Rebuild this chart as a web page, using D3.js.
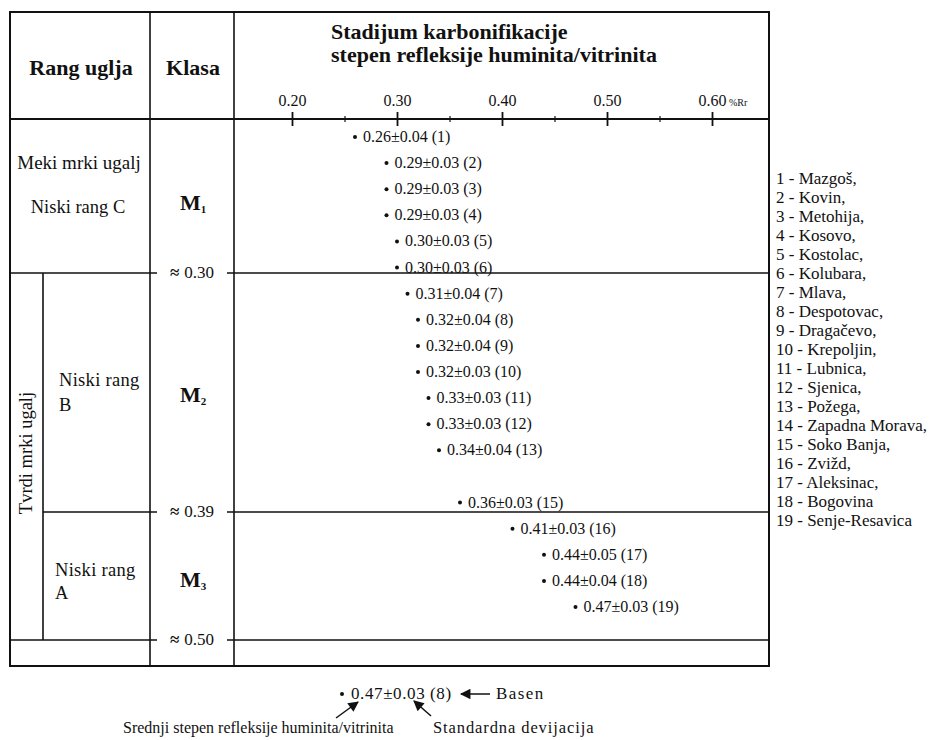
<!DOCTYPE html>
<html><head><meta charset="utf-8">
<script src="https://cdn.jsdelivr.net/npm/d3@7"></script>
<style>
html,body{margin:0;padding:0;background:#fff;}
</style></head>
<body>
<svg id="chart" width="941" height="740"></svg>
<script>
// ---------- data ----------
const basinNames = ["Mazgoš","Kovin","Metohija","Kosovo","Kostolac","Kolubara","Mlava","Despotovac","Dragačevo","Krepoljin","Lubnica","Sjenica","Požega","Zapadna Morava","Soko Banja","Zvižd","Aleksinac","Bogovina","Senje-Resavica"];
const basinIds  = [1,2,3,4,5,6,7,8,9,10,11,12,13,15,16,17,18,19];
const meanRr    = [0.26,0.29,0.29,0.29,0.30,0.30,0.31,0.32,0.32,0.32,0.33,0.33,0.34,0.36,0.41,0.44,0.44,0.47];
const sdRr      = [0.04,0.03,0.03,0.03,0.03,0.03,0.04,0.04,0.04,0.03,0.03,0.03,0.04,0.03,0.03,0.05,0.04,0.03];
const majorTicks = [0.20,0.30,0.40,0.50,0.60];
const minorTicks = [0.25,0.35,0.45,0.55];
const boundaryLabels = ["0.30","0.39","0.50"];
const classNames = ["M","M","M"];
const classSubs = ["1","2","3"];

const FONT = "'Liberation Serif', Tinos, 'Times New Roman', 'DejaVu Serif', serif";

// ---------- layout ----------
const svg = d3.select("#chart").attr("font-family", FONT);
const L = 10, R = 769, T = 12, B = 666;
const col1 = 150, col2 = 234, headY = 119;
const bandY = [headY, 273, 512, 640];
const x = d3.scaleLinear().domain([0.20,0.60]).range([292,712]);
const y = d3.scaleLinear().domain([1,19]).range([137,607]);

function txt(sel){ return sel.append("text").attr("font-family", FONT).attr("fill","#111"); }

const lineG = svg.append("g").attr("stroke","#111").attr("fill","none");
lineG.append("rect").attr("x",L).attr("y",T).attr("width",R-L).attr("height",B-T).attr("stroke-width",2);
lineG.append("line").attr("x1",col1).attr("x2",col1).attr("y1",T).attr("y2",B).attr("stroke-width",1.6);
lineG.append("line").attr("x1",col2).attr("x2",col2).attr("y1",T).attr("y2",B).attr("stroke-width",1.6);
lineG.append("line").attr("x1",L).attr("x2",R).attr("y1",headY).attr("y2",headY).attr("stroke-width",1.8);
const bx0 = [L, 43, L];
boundaryLabels.forEach((lab,i)=>{
  const yy = bandY[i+1];
  lineG.append("line").attr("x1",bx0[i]).attr("x2",157).attr("y1",yy).attr("y2",yy).attr("stroke-width",1.6);
  lineG.append("line").attr("x1",227).attr("x2",R).attr("y1",yy).attr("y2",yy).attr("stroke-width",1.6);
  const t = txt(svg).attr("x",192).attr("y",yy+5).attr("text-anchor","middle").attr("font-size",17);
  t.append("tspan").attr("font-weight","bold").text("≈");
  t.append("tspan").attr("dx",5).text(lab);
});
lineG.append("line").attr("x1",43).attr("x2",43).attr("y1",bandY[1]).attr("y2",bandY[3]).attr("stroke-width",1.6);

// ---------- header texts ----------
txt(svg).attr("x",81).attr("y",75).attr("text-anchor","middle").attr("font-size",22).attr("font-weight","bold").text("Rang uglja");
txt(svg).attr("x",193).attr("y",75).attr("text-anchor","middle").attr("font-size",22).attr("font-weight","bold").text("Klasa");
txt(svg).attr("x",331).attr("y",39).attr("font-size",22).attr("font-weight","bold").text("Stadijum karbonifikacije");
txt(svg).attr("x",331).attr("y",62).attr("font-size",22).attr("font-weight","bold").text("stepen refleksije huminita/vitrinita");

// ---------- axis ----------
const axG = svg.append("g").attr("transform",`translate(0,${headY})`);
const topMajor = axG.append("g").call(d3.axisTop(x).tickValues(majorTicks).tickSize(7).tickPadding(6).tickFormat(d3.format(".2f")));
const botMajor = axG.append("g").call(d3.axisBottom(x).tickValues(majorTicks).tickSize(7).tickFormat(""));
const topMinor = axG.append("g").call(d3.axisTop(x).tickValues(minorTicks).tickSize(3).tickFormat(""));
const botMinor = axG.append("g").call(d3.axisBottom(x).tickValues(minorTicks).tickSize(3).tickFormat(""));
axG.selectAll("g").attr("font-family", FONT);
axG.selectAll(".domain").remove();
axG.selectAll(".tick line").attr("stroke","#111");
topMajor.selectAll(".tick line").attr("stroke-width",1.8);
botMajor.selectAll(".tick line").attr("stroke-width",1.8);
topMinor.selectAll(".tick line").attr("stroke-width",1.2);
botMinor.selectAll(".tick line").attr("stroke-width",1.2);
axG.selectAll(".tick text").attr("font-family",FONT).attr("font-size",16).attr("fill","#111");
txt(svg).attr("x",729).attr("y",106).attr("font-size",10).text("%Rr");

// ---------- rank column ----------
txt(svg).attr("x",79).attr("y",169).attr("text-anchor","middle").attr("font-size",19).text("Meki mrki ugalj");
txt(svg).attr("x",78).attr("y",213).attr("text-anchor","middle").attr("font-size",18.5).text("Niski rang C");
txt(svg).attr("transform","translate(32,453) rotate(-90)").attr("text-anchor","middle").attr("font-size",18.5).text("Tvrdi mrki ugalj");
txt(svg).attr("x",59).attr("y",386).attr("font-size",18.5).attr("letter-spacing",0.3).text("Niski rang");
txt(svg).attr("x",59).attr("y",411).attr("font-size",18.5).text("B");
txt(svg).attr("x",55).attr("y",576).attr("font-size",18.5).attr("letter-spacing",0.3).text("Niski rang");
txt(svg).attr("x",55).attr("y",599).attr("font-size",18.5).text("A");

// ---------- class column ----------
const classY = [210, 402, 587];
classNames.forEach((c,i)=>{
  const t = txt(svg).attr("x",180).attr("y",classY[i]).attr("font-size",22).attr("font-weight","bold");
  t.append("tspan").text(c);
  t.append("tspan").attr("font-size",11).attr("dy",3).text(classSubs[i]);
});

// ---------- data points ----------
const pts = basinIds.map((id,i)=>({id, m:meanRr[i], s:sdRr[i]}));
const pg = svg.append("g");
pg.selectAll("circle").data(pts).join("circle")
  .attr("cx",d=>x(d.m)).attr("cy",d=>y(d.id)).attr("r",2).attr("fill","#111");
pg.selectAll("text").data(pts).join("text")
  .attr("font-family",FONT).attr("fill","#111")
  .attr("x",d=>x(d.m)+8).attr("y",d=>y(d.id)+5).attr("font-size",16)
  .text(d=>`${d.m.toFixed(2)}±${d.s.toFixed(2)} (${d.id})`);

// ---------- legend ----------
svg.append("g").selectAll("text").data(basinNames).join("text")
  .attr("font-family",FONT).attr("fill","#111")
  .attr("x",776).attr("y",(d,i)=>184 + i*19).attr("font-size",17)
  .text((d,i)=>`${i+1} - ${d}${i<17?",":""}`);

// ---------- bottom explanation ----------
const defs = svg.append("defs");
defs.append("marker").attr("id","ah").attr("viewBox","0 0 10 10").attr("refX",9).attr("refY",5)
  .attr("markerWidth",9).attr("markerHeight",7).attr("orient","auto-start-reverse")
  .append("path").attr("d","M0,0 L10,5 L0,10 z").attr("fill","#111");
svg.append("circle").attr("cx",342).attr("cy",694).attr("r",2).attr("fill","#111");
txt(svg).attr("x",351).attr("y",699).attr("font-size",17).attr("letter-spacing",0.6).text("0.47±0.03 (8)");
svg.append("line").attr("x1",490).attr("y1",694).attr("x2",461).attr("y2",694).attr("stroke","#111").attr("stroke-width",1.5).attr("marker-end","url(#ah)");
txt(svg).attr("x",496).attr("y",699).attr("font-size",17).attr("letter-spacing",1.4).text("Basen");
svg.append("line").attr("x1",336).attr("y1",718).attr("x2",358).attr("y2",702).attr("stroke","#111").attr("stroke-width",1.5).attr("marker-end","url(#ah)");
svg.append("line").attr("x1",431).attr("y1",716).attr("x2",414).attr("y2",701).attr("stroke","#111").attr("stroke-width",1.5).attr("marker-end","url(#ah)");
txt(svg).attr("x",123).attr("y",733).attr("font-size",16).text("Srednji stepen refleksije huminita/vitrinita");
txt(svg).attr("x",433).attr("y",733).attr("font-size",16.5).attr("letter-spacing",0.9).text("Standardna devijacija");
</script>
</body></html>
